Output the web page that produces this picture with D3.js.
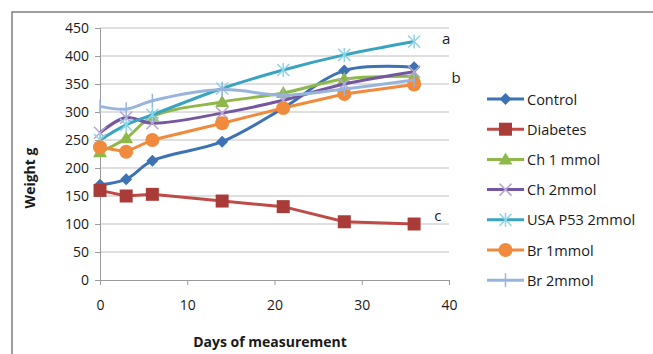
<!DOCTYPE html>
<html>
<head>
<meta charset="utf-8">
<script src="https://cdn.jsdelivr.net/npm/d3@7"></script>
<style>
  body { margin: 0; background: #fff; }
  text { font-family: "Open Sans", "Liberation Sans", sans-serif; fill: #1a1a1a; }
</style>
</head>
<body>
<div id="chart"></div>
<script>
// Data
const days = [0, 3, 6, 14, 21, 28, 36];
const control = [170, 180, 213, 247, 307, 374, 380];
const diabetes = [160, 150, 153, 141, 131, 104, 100];
const ch1 = [228, 253, 292, 318, 334, 359, 364];
const ch2 = [263, 290, 280, 298, 321, 350, 372];
const usaP53 = [250, 277, 295, 342, 375, 402, 426];
const br1 = [237, 229, 250, 280, 307, 332, 349];
const br2 = [310, 305, 320, 340, 330, 341, 357];
const yTicks = [0, 50, 100, 150, 200, 250, 300, 350, 400, 450];
const xTicks = [0, 10, 20, 30, 40];
const letters = [{ t: "a", day: 39.2, v: 421 }, { t: "b", day: 40.3, v: 351 }, { t: "c", day: 38.3, v: 105 }];

const series = [
  { name: "Control", values: control, color: "#3d72b4", mfill: "#3d72b4", marker: "diamond", smooth: true },
  { name: "Diabetes", values: diabetes, color: "#be4b48", mfill: "#a93c39", marker: "square", smooth: false },
  { name: "Ch 1 mmol", values: ch1, color: "#8fb84a", mfill: "#8fb84a", marker: "triangle", smooth: true },
  { name: "Ch 2mmol", values: ch2, color: "#7556a0", mfill: "#b7a6d2", marker: "x", smooth: true },
  { name: "USA P53 2mmol", values: usaP53, color: "#3aa3c0", mfill: "#8fd3e6", marker: "star", smooth: true },
  { name: "Br 1mmol", values: br1, color: "#f08a3c", mfill: "#f08a3c", marker: "circle", smooth: false },
  { name: "Br 2mmol", values: br2, color: "#98b4dc", mfill: "#98b4dc", marker: "plus", smooth: true }
];

const width = 653, height = 354;
const margin = { top: 28, left: 100, right: 204, bottom: 74 };

const svg = d3.select("#chart").append("svg")
  .attr("width", width)
  .attr("height", height);

// outer frame
svg.append("rect")
  .attr("x", 12).attr("y", 12)
  .attr("width", 700).attr("height", 400)
  .attr("fill", "none")
  .attr("stroke", "#7f7f7f")
  .attr("stroke-width", 1.5);

const x = d3.scaleLinear().domain([0, 40]).range([margin.left, width - margin.right]);
const y = d3.scaleLinear().domain([0, 450]).range([height - margin.bottom, margin.top]);

// gridlines
svg.append("g")
  .selectAll("line")
  .data(yTicks.slice(1))
  .join("line")
  .attr("x1", x(0)).attr("x2", x(40))
  .attr("y1", d => y(d)).attr("y2", d => y(d))
  .attr("stroke", "#bfbfbf");

// y axis
const yAxis = svg.append("g")
  .attr("transform", `translate(${x(0)},0)`)
  .call(d3.axisLeft(y).tickValues(yTicks).tickSize(5).tickPadding(6));
yAxis.select(".domain").attr("stroke", "#9a9a9a");
yAxis.selectAll(".tick line").attr("stroke", "#9a9a9a");
yAxis.selectAll("text").attr("font-size", 14).attr("fill", "#1a1a1a")
  .style("font-family", "'Open Sans', sans-serif");

// x axis
const xAxis = svg.append("g")
  .attr("transform", `translate(0,${y(0)})`)
  .call(d3.axisBottom(x).tickValues(xTicks).tickSize(5).tickPadding(15));
xAxis.select(".domain").attr("stroke", "#9a9a9a");
xAxis.selectAll(".tick line").attr("stroke", "#9a9a9a");
xAxis.selectAll("text").attr("font-size", 14).attr("fill", "#1a1a1a")
  .style("font-family", "'Open Sans', sans-serif");

// axis titles
svg.append("text")
  .attr("x", 270).attr("y", 347)
  .attr("text-anchor", "middle")
  .attr("font-size", 14).attr("font-weight", "bold")
  .text("Days of measurement");

svg.append("text")
  .attr("transform", "translate(35,178) rotate(-90)")
  .attr("text-anchor", "middle")
  .attr("font-size", 14).attr("font-weight", "bold")
  .text("Weight g");

function drawMarker(g, type, cx, cy, s) {
  const col = s.mfill;
  if (type === "diamond") {
    g.append("path").attr("d", `M${cx},${cy - 6}L${cx + 6},${cy}L${cx},${cy + 6}L${cx - 6},${cy}Z`).attr("fill", col);
  } else if (type === "square") {
    g.append("rect").attr("x", cx - 6.5).attr("y", cy - 6.5).attr("width", 13).attr("height", 13).attr("fill", col);
  } else if (type === "triangle") {
    g.append("path").attr("d", `M${cx},${cy - 7}L${cx + 7},${cy + 5}L${cx - 7},${cy + 5}Z`).attr("fill", col);
  } else if (type === "circle") {
    g.append("circle").attr("cx", cx).attr("cy", cy).attr("r", 7).attr("fill", col);
  } else if (type === "x") {
    g.append("path").attr("d", `M${cx - 6},${cy - 6}L${cx + 6},${cy + 6}M${cx - 6},${cy + 6}L${cx + 6},${cy - 6}`)
      .attr("stroke", col).attr("stroke-width", 1.5);
  } else if (type === "star") {
    g.append("path").attr("d", `M${cx - 6},${cy - 6}L${cx + 6},${cy + 6}M${cx - 6},${cy + 6}L${cx + 6},${cy - 6}M${cx},${cy - 7}L${cx},${cy + 7}`)
      .attr("stroke", col).attr("stroke-width", 1.5);
  } else if (type === "plus") {
    g.append("path").attr("d", `M${cx},${cy - 7}L${cx},${cy + 7}`)
      .attr("stroke", col).attr("stroke-width", 1.5);
  }
}

// series lines and markers
series.forEach(s => {
  const pts = days.map((d, i) => [x(d), y(s.values[i])]);
  const line = d3.line().curve(s.smooth ? d3.curveCatmullRom.alpha(0.5) : d3.curveLinear);
  svg.append("path")
    .attr("d", line(pts))
    .attr("fill", "none")
    .attr("stroke", s.color)
    .attr("stroke-width", 3);
  const g = svg.append("g");
  pts.forEach(p => drawMarker(g, s.marker, p[0], p[1], s));
});

// significance letters
svg.selectAll(".letter")
  .data(letters)
  .join("text")
  .attr("class", "letter")
  .attr("x", d => x(d.day)).attr("y", d => y(d.v))
  .attr("font-size", 15)
  .text(d => d.t);

// legend
const legend = svg.append("g").attr("transform", "translate(487,99)");
series.forEach((s, i) => {
  const g = legend.append("g").attr("transform", `translate(0,${i * 30.2})`);
  g.append("line").attr("x1", 0).attr("x2", 37).attr("y1", 0).attr("y2", 0)
    .attr("stroke", s.color).attr("stroke-width", 3);
  drawMarker(g, s.marker, 18.5, 0, s);
  g.append("text").attr("x", 40).attr("y", 5.5)
    .attr("font-size", 14.5)
    .text(s.name);
});
</script>
</body>
</html>
